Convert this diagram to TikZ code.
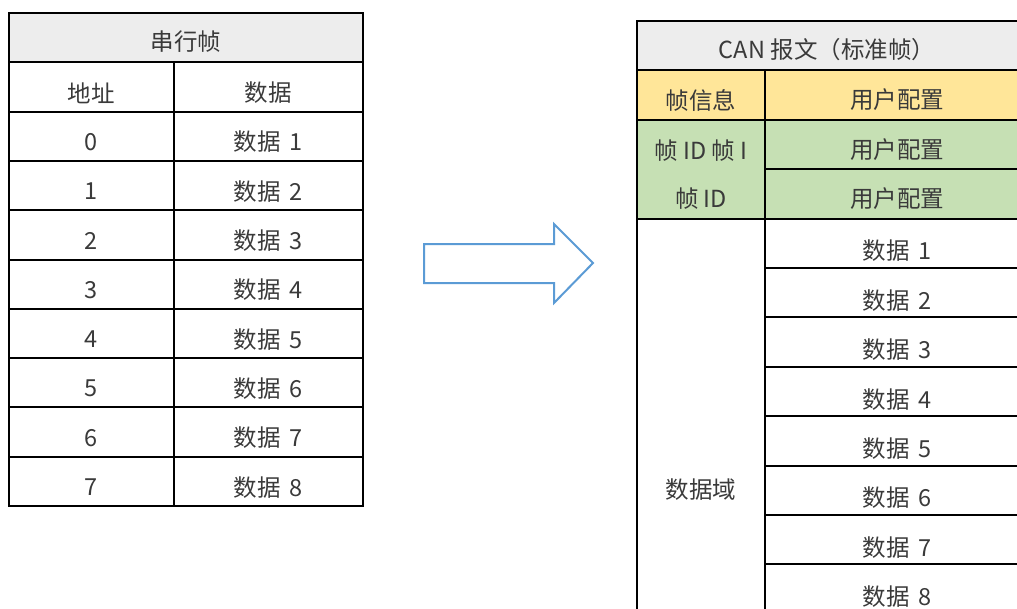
\documentclass[tikz,border=0pt]{standalone}
\usepackage{fontspec}
\setmainfont{Noto Sans CJK SC}
\definecolor{hdrgray}{HTML}{EDEDED}
\definecolor{infoyel}{HTML}{FFE699}
\definecolor{idgreen}{HTML}{C6E0B4}
\definecolor{arrowblue}{HTML}{5B9BD5}
\definecolor{txt}{HTML}{3A3A3A}
\tikzset{
  grid/.style={draw=black, line width=2pt},
  cell/.style={text=txt, font=\fontsize{23.5}{26}\selectfont, inner sep=0pt, anchor=center},
  bigarrow/.style={draw=arrowblue, line width=2pt, fill=white, line join=miter},
}
\newcommand{\dnum}[1]{数据\hspace{0.35em}#1}
\begin{document}
\begin{tikzpicture}[x=1pt,y=-1pt]
\useasboundingbox (0,0) rectangle (1017,608);
\begin{scope}
\clip (0,0) rectangle (1017,608);
% ---------- left table ----------
\fill[hdrgray] (9,13) rectangle (363,62.3);
\node[cell] (lh) at (186,42) {串行帧};
\node[cell] (lc1) at (91,93) {地址};
\node[cell] (lc2) at (268,93) {数据};
\foreach \i in {0,...,7}{
  \pgfmathsetmacro{\yc}{142+49.3*\i}
  \pgfmathtruncatemacro{\n}{\i+1}
  \node[cell] (la\i) at (91,\yc) {\i};
  \node[cell] (ld\i) at (268,\yc) {\dnum{\n}};
}
\draw[grid] (9,13) rectangle (363,506);
\foreach \k in {1,...,9}{
  \draw[grid] (9,13+49.3*\k) -- (363,13+49.3*\k);
}
\draw[grid] (174,62.3) -- (174,506);
% ---------- arrow ----------
\draw[bigarrow] (424,244) -- (554,244) -- (554,224) -- (593,263) -- (554,303) -- (554,283) -- (424,283) -- cycle;
% ---------- right table ----------
\fill[hdrgray] (637,21) rectangle (1030,70.4);
\fill[infoyel] (637,70.4) rectangle (1030,119.8);
\fill[idgreen] (637,119.8) rectangle (1030,218.6);
\node[cell] (rh) at (827,50) {CAN 报文（标准帧）};
\node[cell] (ri) at (701,100) {帧信息};
\node[cell] (ru0) at (897,100) {用户配置};
\node[cell] (rid1) at (701,151) {帧 ID 帧 I};
\node[cell] (rid2) at (701,199) {帧 ID};
\node[cell] (ru1) at (897,150) {用户配置};
\node[cell] (ru2) at (897,199) {用户配置};
\node[cell] (rdf) at (701,490) {数据域};
\foreach \i in {1,...,8}{
  \pgfmathsetmacro{\yc}{201.5+49.4*\i}
  \node[cell] (rd\i) at (897,\yc) {\dnum{\i}};
}
\draw[grid] (637,630) -- (637,21) -- (1030,21);
\foreach \k in {1,2,4}{
  \draw[grid] (637,21+49.4*\k) -- (1030,21+49.4*\k);
}
\foreach \k in {3,5,6,7,8,9,10,11,12}{
  \draw[grid] (765,21+49.4*\k) -- (1030,21+49.4*\k);
}
\draw[grid] (765,70.4) -- (765,630);
\end{scope}
\end{tikzpicture}
\end{document}
